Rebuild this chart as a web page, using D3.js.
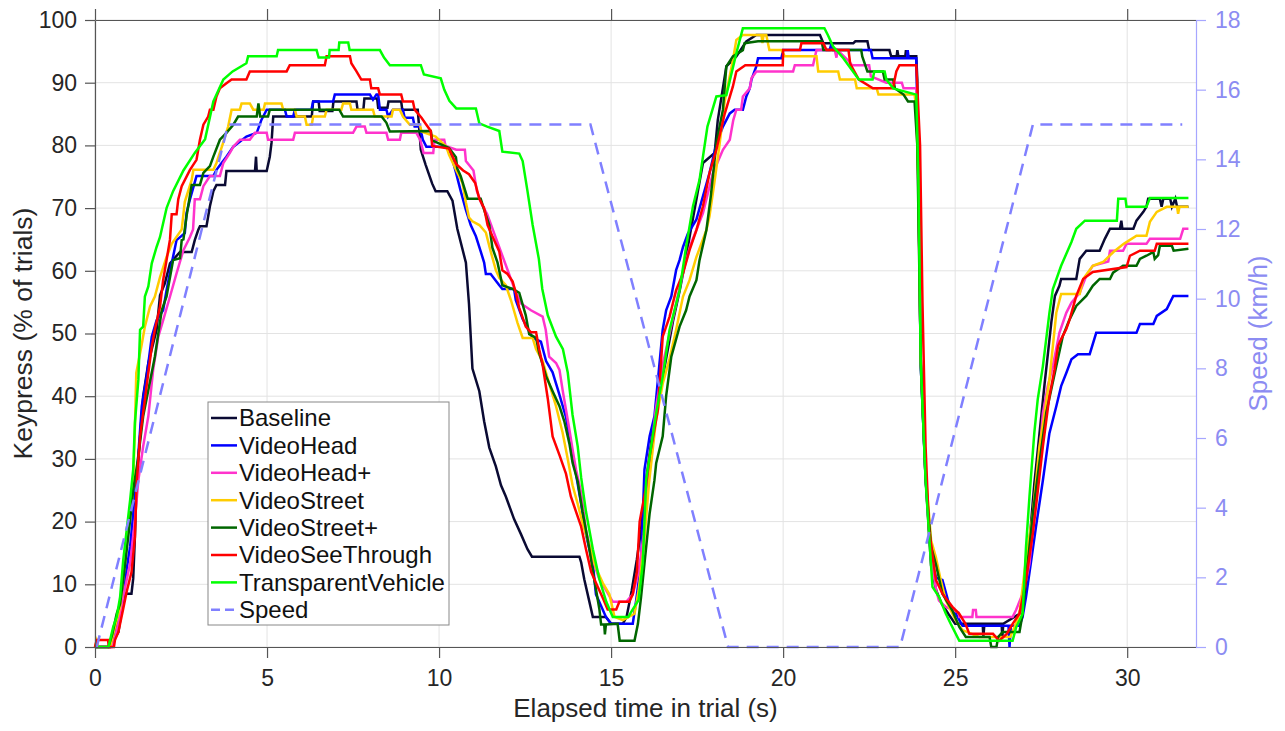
<!DOCTYPE html>
<html>
<head>
<meta charset="utf-8">
<script src="https://cdn.jsdelivr.net/npm/d3@7/dist/d3.min.js"></script>
<style>
  body { margin: 0; background: #fff; }
  svg text { font-family: "Liberation Sans", Arial, sans-serif; }
</style>
</head>
<body>
<svg id="chart" width="1285" height="731"></svg>
<script>
// keypress share per condition, [time (s), % of trials]
const baseline = [[0,0],[0.44,0],[0.53,1],[0.68,2.4],[0.77,5.6],[0.87,8.5],[1.06,8.5],[1.11,10.9],[1.16,17.6],[1.21,26.6],[1.26,29.9],[1.4,40],[1.55,45.3],[1.79,50.6],[1.89,56.1],[2.03,58],[2.18,61.2],[2.47,63],[2.81,63],[2.9,64.9],[3.0,66.5],[3.05,67.1],[3.24,67.1],[3.34,70.3],[3.44,72.7],[3.53,73.7],[3.78,73.7],[3.82,75.9],[4.65,75.9],[4.68,78.2],[4.7,75.9],[4.99,75.9],[5.08,78.2],[5.13,80.4],[5.18,84.6],[6.3,84.6],[6.34,87],[6.5,87],[6.53,85.5],[6.9,85.5],[6.93,87],[7.6,87],[7.63,85.7],[7.8,85.7],[7.83,87.5],[8.2,87.5],[8.23,86],[8.5,86],[8.53,87],[8.9,87],[8.93,85.7],[9.38,85.7],[9.42,82.9],[9.47,79.3],[9.61,76.9],[9.8,73.9],[9.9,72.7],[10.24,72.7],[10.39,71.2],[10.53,66.7],[10.78,61.3],[10.87,54.7],[10.97,44.4],[11.17,40.8],[11.31,36],[11.46,31.8],[11.65,28.8],[11.8,25.8],[11.94,24],[12.18,20.4],[12.38,18],[12.57,15.6],[12.7,14.4],[14.08,14.4],[14.13,13.5],[14.22,10.8],[14.37,7.2],[14.47,4.8],[14.85,4.8],[15.0,3.7],[15.34,3.7],[15.45,4.8],[15.6,9],[15.75,14],[15.87,18.7],[16.02,26.6],[16.2,34],[16.4,40],[16.6,46],[16.8,52],[17.0,57],[17.14,61],[17.3,66],[17.48,71.4],[17.67,77.2],[18.01,78.8],[18.1,84],[18.35,92.6],[18.64,94.2],[18.93,96.6],[19.22,97.6],[21.07,97.6],[21.17,96.3],[22.04,96.3],[22.1,96.6],[22.45,96.6],[22.5,95.2],[23.09,95.2],[23.14,94.2],[23.3,94.2],[23.32,95.2],[23.35,94.2],[23.55,94.2],[23.57,95.2],[23.6,94.2],[23.87,94.2],[23.9,90.5],[23.93,75],[24.0,45],[24.14,27],[24.3,13],[24.45,9],[24.6,7],[24.8,5.3],[25.0,3.7],[25.8,3.7],[25.82,1.6],[25.85,3.7],[26.35,3.7],[26.37,1.6],[26.4,3.7],[26.87,5.3],[27.0,9],[27.15,16],[27.3,26],[27.45,34],[27.6,42],[27.7,47],[27.8,52],[27.9,56],[28.03,57.6],[28.08,58.7],[28.52,58.7],[28.62,61.9],[28.81,63.2],[29.2,63.2],[29.35,65.1],[29.5,66.7],[29.79,66.7],[29.83,68],[29.86,66.7],[30.18,66.7],[30.27,68],[30.47,69.4],[30.56,70.2],[30.61,71.5],[30.95,71.5],[31.0,70.2],[31.05,71.5],[31.25,71.5],[31.3,70.2],[31.4,71.5],[31.45,70.2],[31.78,70.2]];

const videoHead = [[0,0],[0.45,0],[0.53,1],[0.68,5.3],[0.77,6.1],[0.87,10.6],[1.02,16],[1.16,24],[1.25,30],[1.36,38.4],[1.5,43.1],[1.65,49.5],[1.79,52.1],[1.98,53.7],[2.08,56.9],[2.23,61.2],[2.37,64.9],[2.61,66],[2.66,69.2],[2.76,71.4],[2.95,75.1],[3.44,75.1],[3.53,76.1],[3.68,77.2],[3.82,78.2],[4.02,79.8],[4.16,80.4],[4.4,81.4],[4.7,82],[4.84,84.1],[4.99,85.7],[5.52,85.7],[5.57,84.6],[5.76,84.6],[5.81,85.7],[6.29,85.7],[6.34,87],[6.92,87],[6.97,88.1],[7.99,88.1],[8.08,87.3],[8.18,88.1],[8.23,88.1],[8.28,85.7],[8.47,85.7],[8.52,84.6],[8.66,85.7],[8.95,85.7],[9.0,84.4],[9.24,84.4],[9.29,83],[9.44,83],[9.53,80.9],[9.63,79.8],[10.19,79.8],[10.34,78.7],[10.49,75.7],[10.63,72.7],[10.78,69.7],[10.92,67.3],[11.07,65.5],[11.21,63.1],[11.31,61.3],[11.36,59.5],[11.5,59.5],[11.75,57.7],[11.84,57.1],[12.18,57.1],[12.23,55.3],[12.43,52.3],[12.72,49.3],[12.96,48.7],[13.11,45.6],[13.3,43.8],[13.5,40.2],[13.69,36.6],[13.79,33.6],[13.88,30],[13.98,27.6],[14.13,22.8],[14.27,18],[14.47,13.2],[14.56,8.4],[14.85,4.8],[15.0,3.7],[15.63,3.7],[15.73,7.5],[15.87,13.3],[15.97,28.3],[16.12,33.6],[16.26,36.8],[16.5,50.6],[16.6,53.7],[16.75,55.9],[16.89,60.1],[16.99,61.7],[17.09,63.8],[17.23,65.9],[17.48,68.2],[17.86,75.6],[18.05,80],[18.25,83],[18.45,85.1],[18.59,85.7],[18.83,85.7],[18.93,87.8],[19.03,89.1],[19.08,90.5],[19.22,92.6],[19.27,93.9],[19.95,93.9],[20.0,95.2],[21.35,95.2],[21.41,96.3],[21.45,95.2],[22.55,95.2],[22.6,93.9],[23.6,93.9],[23.62,95.2],[23.65,93.9],[23.87,93.9],[23.92,80],[24.0,45],[24.14,27],[24.3,14],[24.45,11],[24.63,10.7],[24.82,6.9],[25.02,5.3],[25.21,3.4],[26.55,3.4],[26.58,0],[26.62,3.4],[26.87,3.4],[26.96,4.8],[27.06,8],[27.35,19.2],[27.55,26.6],[27.74,34.1],[27.94,38.4],[28.08,41.6],[28.23,43.7],[28.38,45.9],[28.57,46.7],[28.91,46.7],[29.1,50.1],[30.27,50.1],[30.37,51.5],[30.76,51.5],[30.86,52.8],[31.15,53.9],[31.25,55],[31.34,56],[31.78,56]];

const videoHeadPlus = [[0,0],[0.5,0],[0.58,1.5],[0.68,3.7],[0.82,8],[1.02,13.3],[1.16,20.2],[1.26,26.6],[1.4,32],[1.55,36.8],[1.69,44.2],[1.84,49.5],[1.98,52.1],[2.18,55.9],[2.37,59.6],[2.57,63.3],[2.76,65.4],[2.85,66.6],[2.9,71.4],[3.05,71.4],[3.15,73.5],[3.34,75.1],[3.63,75.1],[3.73,77.2],[3.92,78.8],[4.02,79.8],[4.21,80.9],[4.5,80.9],[4.65,82],[4.99,82],[5.03,80.9],[5.76,80.9],[5.81,82],[7.5,82],[7.6,83],[7.84,83],[7.89,82],[8.47,82],[8.52,80.9],[8.86,80.9],[8.9,82],[9.34,82],[9.45,80.9],[9.55,78.8],[9.83,78.8],[9.87,80.9],[10.15,80.9],[10.19,79.9],[10.5,79.3],[10.75,79.3],[10.78,77.5],[11.0,76],[11.1,72.7],[11.25,70.5],[11.4,69],[11.6,66],[11.8,63],[12.0,60],[12.2,57],[12.38,54.8],[12.67,53.7],[13.01,52.7],[13.1,50.6],[13.2,46.3],[13.4,45.3],[13.5,44.2],[13.59,41],[13.69,37.8],[13.79,34.6],[13.88,31.5],[13.98,28.3],[14.13,24.6],[14.27,18.6],[14.47,13.8],[14.66,10.8],[14.86,9],[15.05,7.2],[15.44,7.2],[15.63,8.4],[15.8,12],[15.95,18],[16.1,28],[16.3,38],[16.5,45],[16.7,50],[16.9,55],[17.1,60],[17.3,64],[17.67,69.2],[17.96,75.6],[18.25,79.3],[18.45,80.9],[18.55,84],[18.64,85.7],[18.78,85.7],[18.83,87.8],[19.03,89.1],[19.08,90.7],[19.22,91.8],[20.29,91.8],[20.34,92.8],[20.87,92.8],[20.97,95.2],[21.5,95.2],[21.55,94],[21.58,95.2],[21.9,93.5],[22.0,92.8],[22.5,92.8],[22.55,91],[23.0,90],[23.45,90],[23.5,89.1],[23.87,89.1],[23.92,76],[24.0,46],[24.14,27],[24.3,14],[24.45,9],[24.53,7.4],[24.73,6.4],[25.1,5.5],[25.12,4.8],[25.5,4.8],[25.52,5.9],[25.6,5.9],[25.62,4.8],[26.67,4.8],[26.77,5.9],[27.0,9],[27.16,13.3],[27.35,24],[27.55,37.3],[27.69,41.6],[27.84,44.8],[28.03,50.1],[28.23,53.3],[28.38,54.9],[28.62,56.5],[28.81,59.2],[29.0,60.8],[29.45,61.5],[29.5,63.2],[29.88,63.2],[29.98,64.3],[30.56,64.3],[30.66,65.1],[31.54,65.1],[31.63,66.7],[31.78,66.7]];

const videoStreet = [[0,0],[0.05,1],[0.1,0],[0.44,0],[0.58,3.2],[0.73,6.4],[0.87,13.3],[0.97,19.7],[1.11,26.1],[1.16,35],[1.2,43.7],[1.35,48],[1.45,51.1],[1.6,54.3],[1.74,55.9],[1.89,59],[2.08,62.2],[2.23,64.3],[2.52,66.6],[2.61,71],[2.81,74.5],[2.86,76.1],[3.44,76.1],[3.53,77.2],[3.7,80],[3.87,83],[3.97,85.7],[4.21,85.7],[4.26,86.7],[4.5,86.7],[4.6,85.7],[4.9,85.7],[4.94,86.7],[5.42,86.7],[5.47,85.7],[5.81,85.7],[5.86,84.6],[6.1,84.6],[6.15,83.3],[6.3,83.3],[6.34,84.6],[6.68,84.6],[6.73,85.7],[7.16,85.7],[7.21,86.7],[7.41,86.7],[7.45,85.7],[8.08,85.7],[8.13,84.6],[8.62,84.6],[8.66,85.7],[8.86,85.7],[8.95,84.6],[9.15,83.3],[9.44,83.3],[9.49,82.2],[9.9,81.4],[10.21,79.8],[10.29,78.5],[10.53,75.7],[10.68,74],[10.78,70.9],[10.87,68.5],[10.97,67.9],[11.17,67.3],[11.36,66.1],[11.5,63.1],[11.65,60.1],[11.75,58.9],[11.94,57.7],[12.09,55.3],[12.28,51.7],[12.43,49.3],[12.72,49.3],[12.82,47.5],[13.01,45.6],[13.2,42],[13.4,38.4],[13.59,34.2],[13.74,30],[13.88,25.8],[14.03,22.8],[14.17,19.8],[14.37,16.2],[14.56,12.6],[14.76,10.2],[14.95,8.4],[15.1,4.8],[15.34,4.3],[15.68,5.3],[15.8,9],[15.95,16],[16.1,26],[16.3,36],[16.5,42],[16.7,46],[16.89,50.6],[17.09,55.9],[17.28,58.5],[17.48,62.2],[17.77,66.5],[17.86,68.7],[18.0,74],[18.15,80],[18.3,87],[18.54,93.6],[18.64,96.8],[18.83,97.6],[19.37,97.6],[19.4,96.3],[19.43,97.6],[19.51,97.6],[19.6,95.2],[19.95,95.2],[20.05,94.2],[20.97,94.2],[21.02,91.8],[21.6,91.8],[21.65,90.5],[22.09,90.5],[22.14,89.1],[22.72,89.1],[22.77,88.1],[23.82,88.1],[23.87,86],[23.93,74],[24.0,46],[24.14,28],[24.3,17],[24.44,14.3],[24.58,10.7],[24.73,7.4],[25.02,4.2],[25.21,2.7],[25.7,1.6],[26.6,1.6],[26.75,3.5],[26.87,5.3],[27.06,14],[27.26,21.4],[27.45,32],[27.6,37.3],[27.74,42.7],[27.94,53.3],[28.08,56.3],[28.62,56.3],[28.72,58.7],[29.0,60.8],[29.3,61.4],[29.6,63],[29.9,64.3],[30.27,65.6],[30.56,65.6],[30.66,67.8],[30.86,69.4],[31.15,70.2],[31.45,70.2],[31.48,69.1],[31.52,70.2],[31.78,70.2]];

const videoStreetPlus = [[0,0],[0.39,0],[0.5,2],[0.63,5.3],[0.73,6.9],[0.87,13],[1.02,20.2],[1.11,25],[1.25,30],[1.4,36.8],[1.55,41],[1.74,46.3],[1.84,50],[1.94,53.7],[2.08,55.9],[2.27,61.7],[2.47,62],[2.52,64.9],[2.57,65],[2.66,68.7],[2.81,73.7],[3.05,73.7],[3.15,75.6],[3.34,76.7],[3.44,78.2],[3.63,80.9],[3.82,82],[4.02,83.3],[4.16,84.6],[4.7,84.6],[4.75,86.7],[4.8,84.6],[5.03,84.6],[5.08,85.7],[7.1,85.7],[7.21,84.6],[8.33,84.6],[8.47,83.6],[8.57,82.2],[9.76,82.3],[9.8,80.8],[10.29,79.6],[10.49,78.1],[10.53,76.3],[10.63,75.1],[10.83,71.5],[11.21,71.5],[11.31,69.7],[11.46,67.3],[11.55,63.7],[11.7,61.3],[11.84,57.7],[12.14,57.1],[12.33,56.5],[12.52,52.9],[12.62,49.9],[12.82,49.3],[12.91,46.9],[13.11,43.2],[13.3,40.8],[13.5,38.4],[13.64,36],[13.79,32.4],[13.88,29.4],[14.03,26.4],[14.17,21.6],[14.37,15.6],[14.51,10.8],[14.66,6],[14.71,3.6],[14.8,3.6],[14.82,2],[14.85,3.6],[15.19,3.7],[15.25,1],[15.68,1],[15.78,3.7],[15.87,7.9],[15.97,13.3],[16.12,21.3],[16.26,26.6],[16.31,29.3],[16.5,33.6],[16.6,40],[16.75,46.3],[16.99,51.1],[17.18,53.7],[17.28,55.9],[17.48,58.5],[17.57,61.7],[17.77,66.5],[17.9,72],[18.06,80.4],[18.25,85.7],[18.35,92.6],[18.54,94.2],[18.83,95.2],[18.88,96.3],[19.27,96.6],[21.12,96.6],[21.17,95.2],[22.27,95.2],[22.3,94.2],[22.45,91.8],[22.9,91.8],[22.95,90.5],[23.2,90.5],[23.25,89.1],[23.5,88.1],[23.63,87],[23.82,87],[23.9,80],[24.0,46],[24.14,27],[24.3,16],[24.44,13.2],[24.63,8.5],[24.92,5.8],[25.12,3.2],[25.31,1.6],[26.0,1.6],[26.05,0],[26.2,0],[26.25,1.6],[26.38,2.4],[26.87,2.4],[26.96,5.3],[27.06,10.7],[27.26,21.4],[27.45,29.4],[27.65,37.4],[27.94,44.8],[28.13,49.6],[28.33,52.3],[28.52,54.4],[28.81,56],[29.0,57.6],[29.2,58.7],[29.5,58.7],[29.59,59.7],[29.88,60.8],[30.27,60.8],[30.37,61.9],[30.56,62.4],[30.76,63],[30.8,61.9],[30.9,62.5],[30.95,64],[31.3,64],[31.35,63.2],[31.78,63.5]];

const videoSeeThrough = [[0,0],[0.05,1.1],[0.38,1.1],[0.4,0],[0.55,0],[0.58,1.1],[0.68,2.4],[0.82,6.1],[0.92,8.8],[1.06,11.9],[1.16,17.6],[1.21,26],[1.31,33.6],[1.5,41.6],[1.65,47.9],[1.74,50.6],[1.89,54.3],[1.98,58.5],[2.08,61.7],[2.18,65],[2.23,69],[2.37,69],[2.42,71.4],[2.52,73.5],[2.76,76.1],[2.95,77.7],[3.05,80.9],[3.15,83.3],[3.29,84.6],[3.34,85.7],[3.44,85.7],[3.53,87.8],[3.63,89.1],[3.82,89.9],[3.97,90.5],[4.4,90.5],[4.5,91.8],[5.57,91.8],[5.66,92.8],[6.68,92.8],[6.73,94.2],[7.41,94.2],[7.45,93.1],[7.6,91.8],[7.74,90.5],[7.99,90.5],[8.03,89.1],[8.23,89.1],[8.28,88.1],[8.9,88.1],[8.95,87],[9.24,87],[9.29,85.7],[9.49,84.4],[9.63,83.3],[9.76,82.3],[9.8,79.9],[10.29,79.5],[10.5,77],[10.7,76],[10.87,75.4],[11.05,74],[11.17,71.5],[11.31,70],[11.41,67.3],[11.55,65.5],[11.75,63.1],[11.84,60.1],[11.99,59.5],[12.14,58.3],[12.23,56.5],[12.33,54.1],[12.52,51.1],[12.67,50.2],[12.82,50.2],[12.91,47.5],[13.01,45],[13.16,39.6],[13.3,33.6],[13.5,30.6],[13.69,27.6],[13.83,24],[13.98,21.6],[14.13,19.2],[14.27,15.6],[14.42,12],[14.61,9.6],[14.76,7.8],[14.9,6],[15.15,6],[15.24,7.2],[15.53,7.2],[15.63,8.4],[15.75,12],[15.83,20],[16.0,25],[16.12,30.4],[16.36,37.8],[16.5,49.5],[16.7,52.7],[16.89,56.9],[17.09,59.6],[17.28,63.3],[17.48,66.5],[17.67,70.3],[17.86,75.6],[18.06,79.3],[18.3,85],[18.54,89.4],[18.64,91.8],[18.9,92.8],[19.99,92.8],[20.0,95.2],[20.49,95.2],[20.53,96.3],[21.17,96.3],[21.26,95.2],[21.9,95.2],[21.95,93],[22.2,90.5],[22.61,89.1],[23.19,89.1],[23.29,91.8],[23.38,92.8],[23.87,92.8],[23.98,80],[24.05,55],[24.14,32],[24.24,18.7],[24.44,10.7],[24.63,8.5],[24.92,6.4],[25.12,5.3],[25.3,3.7],[25.41,2.1],[26.1,2.1],[26.28,1],[26.5,2.1],[26.67,3.7],[26.87,5.3],[27.06,10.7],[27.26,18.2],[27.35,22.4],[27.55,32],[27.74,40],[27.89,44.3],[27.99,48],[28.08,49.1],[28.23,50.7],[28.33,52.3],[28.52,56],[28.72,58.7],[29.0,59.8],[29.98,60.6],[30.08,62.4],[30.37,63.2],[30.8,63.2],[30.86,64.3],[31.78,64.3]];

const transparentVehicle = [[0,0],[0.39,0],[0.53,3.2],[0.63,4.8],[0.73,8],[0.82,13.8],[0.92,18.6],[1.02,23.4],[1.11,28.3],[1.16,35.7],[1.26,42.6],[1.31,50.6],[1.4,51.1],[1.45,55.9],[1.55,57.5],[1.65,61.2],[1.79,63.8],[1.89,65.4],[2.08,70],[2.27,72.7],[2.57,76],[2.9,78.8],[3.2,81],[3.44,87],[3.73,90.5],[4.0,91.8],[4.4,93.1],[4.45,94.2],[5.28,94.2],[5.32,95.2],[6.44,95.2],[6.5,94],[6.8,94],[6.82,95.2],[7.08,95.2],[7.1,96.4],[7.36,96.4],[7.4,95.2],[8.28,95.2],[8.4,94],[8.57,92.8],[9.47,92.8],[9.56,91.3],[10.05,90.7],[10.15,88.9],[10.3,87.1],[10.5,85.9],[11.07,85.9],[11.17,83.5],[11.4,83],[11.75,82.3],[11.84,79],[12.33,78.7],[12.43,77.5],[12.57,72.7],[12.72,67.3],[12.9,61.9],[13.0,57.1],[13.16,52.9],[13.4,49.5],[13.6,47.5],[13.74,43.8],[13.88,37],[14.03,32],[14.13,27],[14.27,21.6],[14.47,15.6],[14.66,10.8],[14.86,7.2],[15.05,4.8],[15.5,4.8],[15.63,6],[15.8,7.5],[15.92,13.3],[16.02,26.7],[16.31,37.3],[16.5,43.1],[16.7,50.6],[16.99,56.9],[17.18,63.8],[17.38,70.3],[17.57,74.5],[17.8,83],[18.06,87.8],[18.35,88],[18.64,94.7],[18.83,98.7],[21.2,98.7],[21.3,97.6],[21.45,95.8],[21.75,93.9],[22.2,90.5],[22.6,90.5],[22.65,91.8],[22.95,91.8],[23.0,90.5],[23.2,89.1],[23.87,88.1],[23.93,74.7],[24.0,45.3],[24.14,26.6],[24.34,9.6],[24.53,8],[24.73,5.3],[24.87,3.7],[25.12,1],[26.67,1],[26.77,3.1],[26.96,5.3],[27.06,16],[27.16,24],[27.3,34.1],[27.4,39.5],[27.55,44.8],[27.74,53.3],[27.84,57.1],[28.08,60.8],[28.38,64.6],[28.52,66.7],[28.77,68],[29.7,68],[29.74,71.5],[29.95,71.5],[29.98,70.2],[30.56,70.2],[30.66,71.6],[31.78,71.6]];

// vehicle speed profile, [time (s), km/h]
const speed = [[0.05,0],[3.87,15],[14.4,15],[18.4,0],[23.4,0],[27.26,15],[31.6,15]];

const seriesNames = ["Baseline", "VideoHead", "VideoHead+", "VideoStreet", "VideoStreet+", "VideoSeeThrough", "TransparentVehicle"];
const seriesData = [baseline, videoHead, videoHeadPlus, videoStreet, videoStreetPlus, videoSeeThrough, transparentVehicle];
const seriesColors = ["#0a0a33", "#0000ff", "#ff33cc", "#ffcc00", "#006600", "#ff0000", "#00ff00"];
const speedColor = "#8080ff";

const xTicks = [0, 5, 10, 15, 20, 25, 30];
const leftTicks = [0, 10, 20, 30, 40, 50, 60, 70, 80, 90, 100];
const rightTicks = [0, 2, 4, 6, 8, 10, 12, 14, 16, 18];

const box = { left: 95, right: 1196, top: 20, bottom: 647 };

const svg = d3.select("#chart");

const x = d3.scaleLinear().domain([0, 32]).range([box.left, box.right]);
const yL = d3.scaleLinear().domain([0, 100]).range([box.bottom, box.top]);
const yR = d3.scaleLinear().domain([0, 18]).range([box.bottom, box.top]);

// grid
const grid = svg.append("g").attr("stroke", "#e3e3e3").attr("stroke-width", 1);
grid.selectAll(".gx").data(xTicks).join("line")
  .attr("x1", d => x(d)).attr("x2", d => x(d))
  .attr("y1", box.top).attr("y2", box.bottom);
grid.selectAll(".gy").data(leftTicks).join("line")
  .attr("x1", box.left).attr("x2", box.right)
  .attr("y1", d => yL(d)).attr("y2", d => yL(d));

// series
const line = d3.line().x(d => x(d[0])).y(d => yL(d[1]));
seriesData.forEach((data, i) => {
  svg.append("path")
    .datum(data)
    .attr("fill", "none")
    .attr("stroke", seriesColors[i])
    .attr("stroke-width", 2.5)
    .attr("stroke-linejoin", "miter")
    .attr("d", line);
});

const speedLine = d3.line().x(d => x(d[0])).y(d => yR(d[1]));
svg.append("path")
  .datum(speed)
  .attr("fill", "none")
  .attr("stroke", speedColor)
  .attr("stroke-width", 2.5)
  .attr("stroke-dasharray", "12,8")
  .attr("d", speedLine);

// axes
function styleAxis(g, color, textColor) {
  g.select(".domain").attr("stroke", color).attr("stroke-width", 1.2);
  g.selectAll(".tick line").attr("stroke", color).attr("stroke-width", 1.2);
  g.selectAll(".tick text").attr("fill", textColor).style("font-size", "23px");
}

svg.append("g")
  .attr("transform", `translate(0,${box.bottom})`)
  .call(d3.axisBottom(x).tickValues(xTicks).tickSize(11).tickSizeOuter(0).tickPadding(12))
  .call(g => styleAxis(g, "#555", "#262626"));

svg.append("g")
  .attr("transform", `translate(0,${box.top})`)
  .call(d3.axisTop(x).tickValues(xTicks).tickSize(11).tickSizeOuter(0).tickFormat(""))
  .call(g => styleAxis(g, "#555", "#262626"));

svg.append("g")
  .attr("transform", `translate(${box.left},0)`)
  .call(d3.axisLeft(yL).tickValues(leftTicks).tickSize(10).tickSizeOuter(0).tickPadding(8))
  .call(g => styleAxis(g, "#555", "#262626"));

svg.append("g")
  .attr("transform", `translate(${box.right},0)`)
  .call(d3.axisRight(yR).tickValues(rightTicks).tickSize(10).tickSizeOuter(0).tickPadding(9))
  .call(g => styleAxis(g, "#a6a6ff", "#8c8cf2"));

// axis titles
svg.append("text")
  .attr("x", (box.left + box.right) / 2).attr("y", 717)
  .attr("text-anchor", "middle")
  .attr("fill", "#262626")
  .style("font-size", "26px")
  .text("Elapsed time in trial (s)");

svg.append("text")
  .attr("transform", `translate(32,${(box.top + box.bottom) / 2}) rotate(-90)`)
  .attr("text-anchor", "middle")
  .attr("fill", "#262626")
  .style("font-size", "26.5px")
  .text("Keypress (% of trials)");

svg.append("text")
  .attr("transform", `translate(1267,${(box.top + box.bottom) / 2}) rotate(-90)`)
  .attr("text-anchor", "middle")
  .attr("fill", "#8c8cf2")
  .style("font-size", "26px")
  .text("Speed (km/h)");

// legend
const legendItems = seriesNames.map((name, i) => ({ name, color: seriesColors[i], dash: null }))
  .concat([{ name: "Speed", color: speedColor, dash: "9,5" }]);

const legend = svg.append("g").attr("transform", "translate(208,402)");
legend.append("rect")
  .attr("width", 241).attr("height", 223)
  .attr("fill", "#fff").attr("stroke", "#888").attr("stroke-width", 1);

const item = legend.selectAll(".item").data(legendItems).join("g")
  .attr("transform", (d, i) => `translate(0,${16 + i * 27.4})`);
item.append("line")
  .attr("x1", 3).attr("x2", 29).attr("y1", 0).attr("y2", 0)
  .attr("stroke", d => d.color).attr("stroke-width", 2.5)
  .attr("stroke-dasharray", d => d.dash);
item.append("text")
  .attr("x", 31).attr("dy", "0.35em")
  .attr("fill", "#111")
  .style("font-size", "24px")
  .text(d => d.name);
</script>
</body>
</html>
